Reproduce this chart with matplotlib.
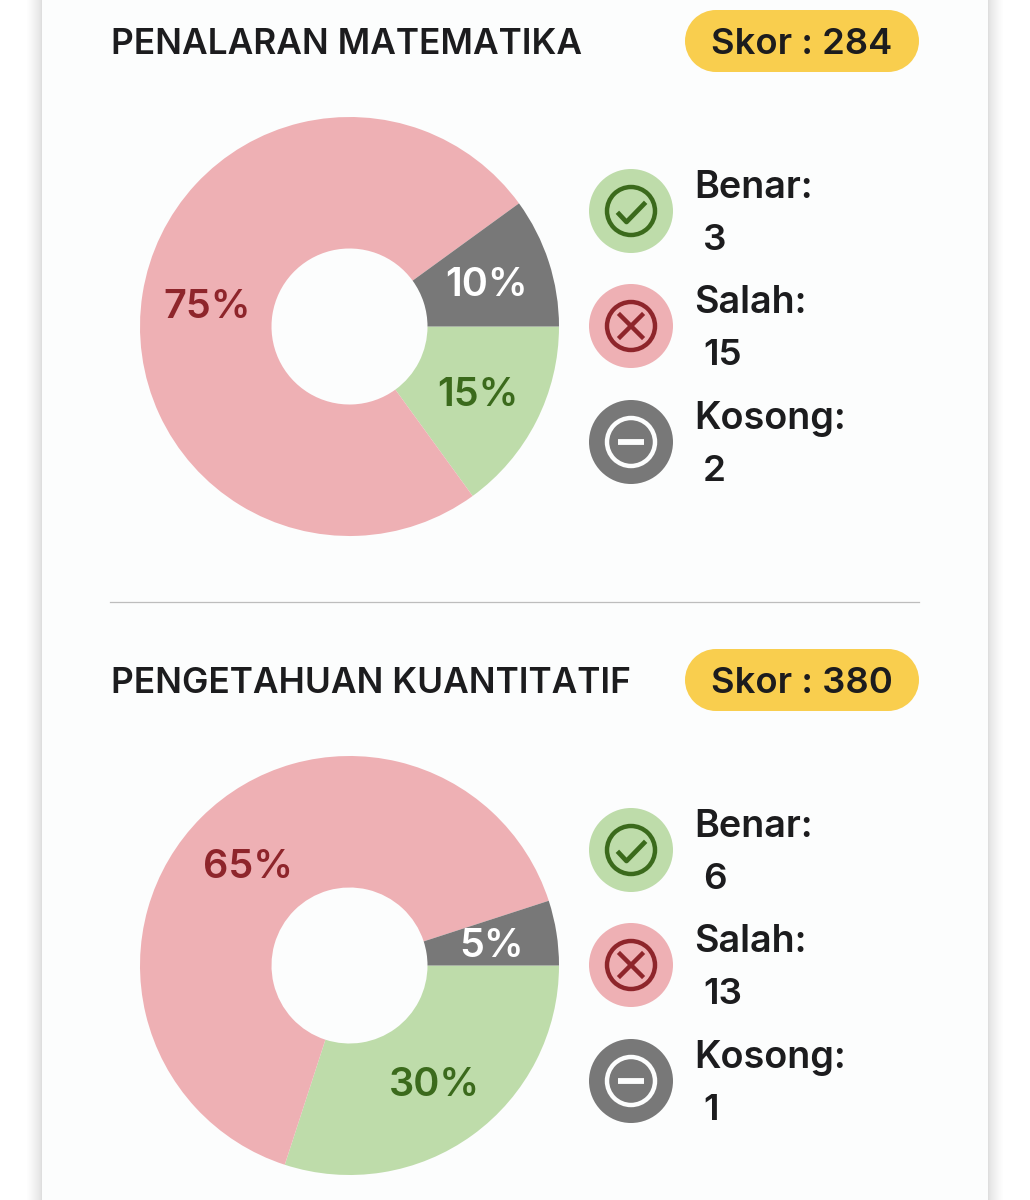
import numpy as np
import matplotlib
matplotlib.use('Agg')
import matplotlib.pyplot as plt
from matplotlib.patches import Circle, Rectangle

# Data
titles = ['PENALARAN MATEMATIKA', 'PENGETAHUAN KUANTITATIF']
scores = [284, 380]
slice_values = [[15, 75, 10], [30, 65, 5]]
counts = [[3, 15, 2], [6, 13, 1]]
count_labels = ['Benar:', 'Salah:', 'Kosong:']

GREEN = '#bedcaa'
PINK = '#eeb0b4'
GRAY = '#787878'
YELLOW = '#f9ce4e'
DARK_GREEN = '#3b6a1c'
DARK_RED = '#8e252b'
INK = '#1c1c1e'
FONT = 'Inter'

W, H = 1030, 1200
fig = plt.figure(figsize=(W / 100, H / 100), dpi=100, facecolor='#ffffff')
ax = fig.add_axes([0, 0, 1, 1])
ax.set_xlim(0, W)
ax.set_ylim(0, H)
ax.axis('off')


def Y(py):
	# picture pixels count from the top
	return H - py


# Card and its side shadow
for i in range(16):
	shade = 0.87 + (1 - 0.87) * (i / 15) ** 0.7
	c = (shade, shade, shade)
	ax.add_patch(Rectangle((42 - i - 1, 0), 1, H, fc=c, ec='none', zorder=1))
	ax.add_patch(Rectangle((988 + i, 0), 1, H, fc=c, ec='none', zorder=1))
ax.add_patch(Rectangle((42, 0), 946, H, fc='#fcfdfd', ec='none', zorder=2))


def icon(cx, cy, kind):
	bg = {'ok': GREEN, 'bad': PINK, 'none': GRAY}[kind]
	fg = {'ok': DARK_GREEN, 'bad': DARK_RED, 'none': '#fcfdfd'}[kind]
	y = Y(cy)
	ax.add_patch(Circle((cx, y), 42, fc=bg, ec='none', zorder=3))
	ax.add_patch(Circle((cx, y), 24, fc='none', ec=fg, lw=3.2, zorder=4))
	if kind == 'ok':
		ax.plot([cx - 12, cx - 4.5, cx + 13], [y - 3, y - 11, y + 7], color=fg, lw=3.4, zorder=5)
	elif kind == 'bad':
		ax.plot([cx - 11, cx + 11], [y - 11, y + 11], color=fg, lw=3.2, zorder=5)
		ax.plot([cx - 11, cx + 11], [y + 11, y - 11], color=fg, lw=3.2, zorder=5)
	else:
		ax.plot([cx - 13, cx + 13], [y, y], color=fg, lw=4.2, solid_capstyle='butt', zorder=5)


def pill(x0, x1, top, bottom, color):
	r = (bottom - top) / 2
	ym = Y(top + r)
	ax.add_patch(Rectangle((x0 + r, ym - r), x1 - x0 - 2 * r, 2 * r, fc=color, ec='none', zorder=3))
	ax.add_patch(Circle((x0 + r, ym), r, fc=color, ec='none', zorder=3))
	ax.add_patch(Circle((x1 - r, ym), r, fc=color, ec='none', zorder=3))


offsets = [0, 639]
for p, off in enumerate(offsets):
	ax.text(111, Y(41 + off), titles[p], fontsize=25.4, fontweight='semibold', family=FONT,
		color=INK, ha='left', va='center_baseline', zorder=5)
	pill(685, 919, 10 + off, 72 + off, YELLOW)
	ax.text(802, Y(41 + off), 'Skor : %d' % scores[p], fontsize=26.2, fontweight='semibold', family=FONT,
		color=INK, ha='center', va='center_baseline', zorder=5)

	wedges, _, autotexts = ax.pie(slice_values[p], colors=[GREEN, PINK, GRAY], startangle=0,
		counterclock=False, center=(349.5, Y(326.5 + off)), radius=209.5,
		wedgeprops=dict(width=131.5, linewidth=0, zorder=3), autopct='%d%%', pctdistance=0.686,
		frame=True)
	for t, col in zip(autotexts, [DARK_GREEN, DARK_RED, '#ffffff']):
		t.set_color(col)
		t.set_fontsize(28.5)
		t.set_fontweight('semibold')
		t.set_family(FONT)
		t.set_zorder(6)
		t.set_y(t.get_position()[1] - 3.5)

	for k, kind in enumerate(['ok', 'bad', 'none']):
		cy = [211, 326, 442][k] + off
		icon(631, cy, kind)
		ax.text(694, Y(cy - 13), count_labels[k], fontsize=27.2, fontweight='semibold', family=FONT,
			color=INK, ha='left', va='baseline', zorder=5)
		ax.text(703, Y(cy + 39), str(counts[p][k]), fontsize=26.5, fontweight='semibold', family=FONT,
			color=INK, ha='left', va='baseline', zorder=5)

# pie() resets limits and aspect, so put them back
ax.set_xlim(0, W)
ax.set_ylim(0, H)
ax.set_aspect('auto')
ax.axis('off')

ax.plot([110, 919], [Y(602), Y(602)], color='#bdbdbd', lw=0.9, zorder=3)

plt.savefig('out.png', dpi=100)
